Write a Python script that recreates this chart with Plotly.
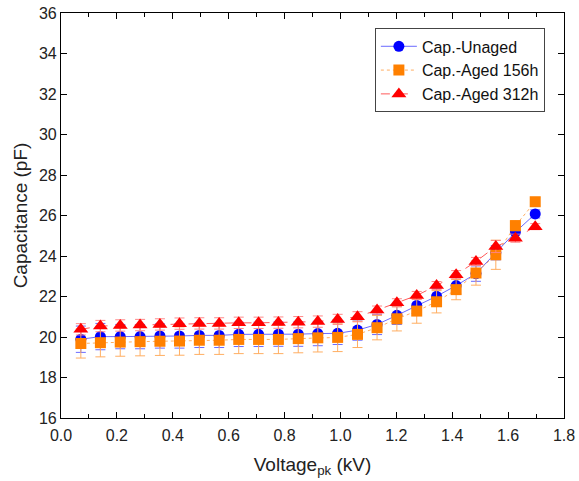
import plotly.graph_objects as go

voltage = [0.071, 0.141, 0.212, 0.283, 0.354, 0.424, 0.495, 0.566, 0.636, 0.707,
           0.778, 0.849, 0.919, 0.990, 1.061, 1.131, 1.202, 1.273, 1.344, 1.414,
           1.485, 1.556, 1.626, 1.697]

cap_unaged = [19.89, 20.02, 20.02, 20.02, 20.05, 20.05, 20.08, 20.08, 20.13, 20.13,
              20.14, 20.14, 20.17, 20.18, 20.34, 20.62, 21.07, 21.56, 22.01, 22.54,
              23.13, 24.16, 25.18, 26.08]
err_unaged = [0.65, 0.65, 0.6, 0.6, 0.6, 0.6, 0.6, 0.6, 0.6, 0.6,
              0.6, 0.6, 0.6, 0.55, 0.5, 0.5, 0.45, 0.4, 0.4, 0.4,
              0.38, 0.35, 0.3, 0.2]

cap_aged156 = [19.68, 19.72, 19.75, 19.77, 19.79, 19.80, 19.84, 19.84, 19.88, 19.88,
               19.88, 19.92, 19.96, 19.98, 20.13, 20.46, 20.90, 21.28, 21.74, 22.34,
               23.16, 24.06, 25.50, 26.68]
err_aged156 = [0.72, 0.7, 0.7, 0.7, 0.7, 0.7, 0.7, 0.7, 0.7, 0.7,
               0.7, 0.7, 0.7, 0.7, 0.65, 0.6, 0.6, 0.6, 0.55, 0.5,
               0.6, 0.72, 0.25, 0.2]

cap_aged312 = [20.38, 20.54, 20.57, 20.59, 20.62, 20.66, 20.67, 20.67, 20.70, 20.70,
               20.71, 20.73, 20.76, 20.87, 21.00, 21.33, 21.69, 22.05, 22.54, 23.08,
               23.73, 24.47, 24.88, 25.45]
err_aged312 = [0.28, 0.28, 0.28, 0.28, 0.28, 0.28, 0.28, 0.28, 0.28, 0.28,
               0.28, 0.28, 0.28, 0.25, 0.25, 0.2, 0.2, 0.2, 0.2, 0.2,
               0.2, 0.3, 0.2, 0.15]

FONT = "Liberation Sans, Arial, sans-serif"

fig = go.Figure()

fig.add_trace(go.Scatter(
    x=voltage, y=cap_unaged, name="Cap.-Unaged", mode="lines+markers",
    line=dict(color="rgba(80,80,255,0.85)", width=1, dash="solid"),
    marker=dict(symbol="circle", size=11, color="#0000FF"),
    error_y=dict(type="data", array=err_unaged, color="rgba(90,90,255,0.9)",
                 thickness=1, width=5),
))
fig.add_trace(go.Scatter(
    x=voltage, y=cap_aged156, name="Cap.-Aged 156h", mode="lines+markers",
    line=dict(color="rgba(255,170,90,0.95)", width=1, dash="dot"),
    marker=dict(symbol="square", size=11, color="#FF8000"),
    error_y=dict(type="data", array=err_aged156, color="rgba(255,170,90,0.95)",
                 thickness=1, width=5),
))
fig.add_trace(go.Scatter(
    x=voltage, y=cap_aged312, name="Cap.-Aged 312h", mode="lines+markers",
    line=dict(color="rgba(255,60,60,0.85)", width=1, dash="dash"),
    marker=dict(symbol="triangle-up", size=13, color="#FF0000"),
    error_y=dict(type="data", array=err_aged312, color="rgba(255,130,130,0.95)",
                 thickness=1, width=5),
))

axis_common = dict(
    showline=True, linecolor="black", linewidth=1.2, mirror="ticks",
    ticks="inside", ticklen=6, tickwidth=1, tickcolor="black",
    showgrid=False, zeroline=False, automargin=False,
    tickfont=dict(family=FONT, size=16, color="#222"),
)

fig.update_xaxes(
    range=[0, 1.8], dtick=0.2, tickformat=".1f", ticklabelstandoff=3,
    minor=dict(ticks="inside", dtick=0.1, ticklen=4, tickcolor="black"),
    title=dict(text="Voltage<sub>pk</sub> (kV)",
               font=dict(family=FONT, size=19, color="#222"),
               standoff=14),
    **axis_common,
)
fig.update_yaxes(
    range=[16, 36], dtick=2,
    title=dict(text="Capacitance (pF)",
               font=dict(family=FONT, size=19, color="#222"),
               standoff=6),
    **axis_common,
)

fig.update_layout(
    width=579, height=481,
    margin=dict(l=61, r=15, t=13, b=63, autoexpand=False),
    plot_bgcolor="white", paper_bgcolor="white",
    legend=dict(x=0.962, y=0.962, xanchor="right", yanchor="top",
                bgcolor="white", bordercolor="#444", borderwidth=1,
                font=dict(family=FONT, size=16, color="#111"),
                tracegroupgap=0, itemwidth=36),
    showlegend=True,
)

fig.write_html("out.html",
               config={"displayModeBar": False},
               post_script="document.body.style.margin='0';document.body.style.overflow='hidden';")
